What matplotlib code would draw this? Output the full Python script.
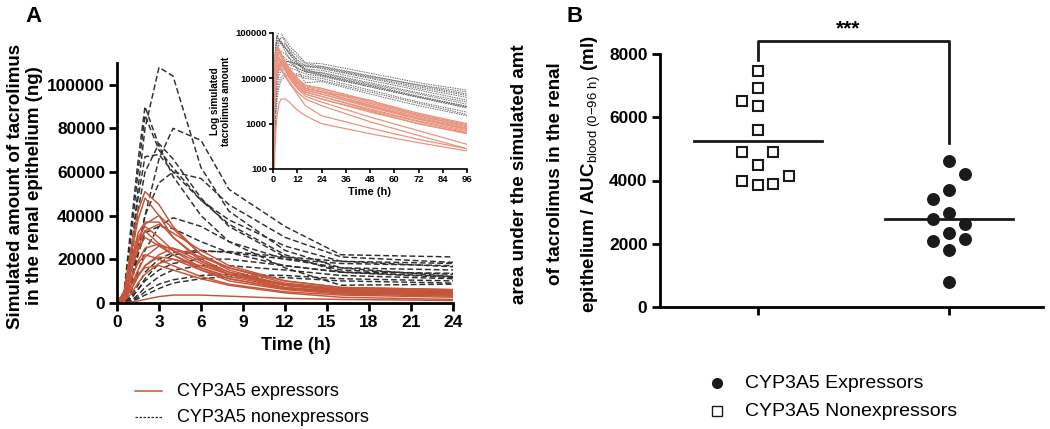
import numpy as np
import matplotlib
matplotlib.use("Agg")
import matplotlib.pyplot as plt
from matplotlib.lines import Line2D

plt.rcParams['font.family'] = ['Liberation Sans', 'DejaVu Sans']
plt.rcParams['mathtext.fontset'] = 'custom'
plt.rcParams['mathtext.rm'] = 'Liberation Sans'
plt.rcParams['mathtext.bf'] = 'Liberation Sans:bold'

# ---- panel A data: simulated amount (ng) per patient
times = [0, 0.5, 1, 1.5, 2, 3, 4, 6, 8, 12, 16, 24]
tail_times = [48, 72, 96]

nonexp_amt = [
    [0, 2000, 22000, 52000, 80000, 108000, 104000, 62000, 42000, 24000, 16000, 12000],
    [0, 5000, 35000, 65000, 90000, 72000, 58000, 40000, 28000, 16000, 8000, 8500],
    [0, 4000, 30000, 60000, 86000, 70000, 62000, 47000, 36000, 22000, 14000, 11500],
    [0, 1000, 8000, 22000, 40000, 66000, 80000, 74500, 52000, 35000, 22000, 21000],
    [0, 2000, 18000, 42000, 60000, 73000, 66000, 48000, 35000, 21000, 15000, 13000],
    [0, 3000, 22000, 48000, 67000, 68000, 60000, 47000, 38000, 26000, 19000, 16500],
    [0, 1000, 10000, 25000, 40000, 55000, 60000, 57000, 45000, 30000, 21000, 18500],
    [0, 500, 5000, 14000, 24000, 35000, 39000, 35000, 28000, 20000, 16000, 15000],
    [0, 1000, 9000, 22000, 32000, 35000, 34000, 28000, 23000, 17000, 14000, 13500],
    [0, 300, 3000, 8000, 14000, 20000, 23000, 24000, 23000, 20000, 18000, 17000],
    [0, 200, 2000, 6000, 11000, 18000, 22000, 23500, 23500, 21000, 19000, 18000],
    [0, 200, 2000, 6000, 10000, 15000, 18000, 20000, 20000, 17000, 14000, 12000],
    [0, 100, 1000, 3500, 7000, 12000, 15000, 17000, 17000, 15000, 12500, 11000],
    [0, 100, 800, 2500, 5000, 8500, 10500, 12500, 13000, 12500, 11000, 10000],
    [0, 100, 600, 1800, 3500, 6500, 9000, 11000, 12000, 11500, 10000, 9000],
]
nonexp_tail = [
    [7000, 4000, 2400], [4500, 2500, 1500], [6500, 3800, 2200], [13000, 8000, 5500],
    [7500, 4500, 2700], [10000, 6000, 3800], [11500, 7000, 4500], [9000, 5500, 3300],
    [8000, 4800, 3000], [10500, 6500, 4200], [11000, 7200, 5000], [7000, 4000, 2400],
    [6500, 3800, 2300], [5500, 3000, 1800], [5000, 2800, 1600],
]

exp_amt = [
    [0, 5000, 25000, 42000, 51000, 45000, 35000, 22000, 15000, 8000, 6000, 5000],
    [0, 4000, 22000, 38000, 48000, 40000, 30000, 19000, 13000, 7000, 5000, 4000],
    [0, 2000, 15000, 28000, 36000, 40000, 34000, 22000, 16000, 9000, 6500, 5500],
    [0, 3000, 18000, 32000, 37000, 37000, 30000, 20000, 14000, 8000, 6000, 5000],
    [0, 2000, 14000, 25000, 33000, 36000, 32000, 24000, 17000, 10000, 7000, 6000],
    [0, 4000, 20000, 30000, 35000, 30000, 24000, 16000, 11000, 6500, 4500, 3500],
    [0, 3500, 18000, 28000, 33000, 27000, 22000, 15000, 10000, 6000, 4000, 3000],
    [0, 3000, 15000, 24000, 30000, 26000, 22000, 16000, 12000, 7000, 5000, 4000],
    [0, 2000, 10000, 19000, 25000, 27000, 24000, 18000, 13000, 8000, 5500, 4500],
    [0, 1500, 8000, 15000, 21000, 26000, 25000, 19000, 14000, 8500, 6000, 5000],
    [0, 1000, 6000, 12000, 17000, 22000, 25000, 21000, 16000, 10000, 7000, 6000],
    [0, 2500, 12000, 18000, 22000, 20000, 17000, 12000, 8500, 5000, 3500, 2500],
    [0, 1000, 6000, 12000, 17000, 21000, 20000, 15000, 11000, 6500, 4500, 3500],
    [0, 800, 4000, 9000, 13000, 18000, 20000, 17000, 13000, 8000, 5500, 4500],
    [0, 1500, 8000, 13000, 16000, 17000, 15000, 11000, 8000, 4500, 2500, 1500],
    [0, 50, 300, 800, 1500, 2800, 3500, 3500, 3000, 2000, 1500, 1000],
]
exp_tail = [
    [2500, 1300, 750], [2000, 1100, 650], [2800, 1500, 900], [2600, 1400, 800],
    [3200, 1700, 1000], [1800, 1000, 600], [1400, 700, 350], [2100, 1150, 700],
    [2300, 1250, 750], [3300, 1500, 850], [3000, 1600, 950], [1100, 550, 280],
    [1900, 1000, 620], [2400, 1300, 780], [800, 450, 280], [600, 380, 250],
]

# ---- panel B data: AUC ratio (ml)
nonexp_auc = [7460, 6910, 6520, 6370, 5590, 4895, 4905, 4494, 4000, 3870, 3900, 4155]
nonexp_col = [0, 0, -1, 0, 0, -1, 1, 0, -1, 0, 1, 2]
exp_auc = [4610, 4190, 3715, 3400, 2975, 2775, 2615, 2355, 2165, 2090, 1795, 790]
exp_col = [0, 1, 0, -1, 0, -1, 1, 0, 1, -1, 0, 0]

RED = '#c4553a'
RED_LIGHT = '#e99580'
DARK = '#2e2e2e'
W, H = 1050, 429


def fx(px):
    return px / W


def fy(py):
    return 1 - py / H


fig = plt.figure(figsize=(10.5, 4.29), dpi=100)

# ---------------- panel A
ax = fig.add_axes([fx(117), fy(302.7), (453 - 117) / W, (302.7 - 63) / H])
for v in nonexp_amt:
    ax.plot(times, v, color=DARK, lw=1.05, ls=(0, (4, 2)))
for v in exp_amt:
    ax.plot(times, v, color=RED, lw=1.05)
ax.set_xlim(0, 24)
ax.set_ylim(0, 110000)
ax.set_xticks(range(0, 25, 3))
ax.set_yticks(range(0, 100001, 20000))
for s in ['top', 'right']:
    ax.spines[s].set_visible(False)
for s in ['left', 'bottom']:
    ax.spines[s].set_linewidth(2)
ax.tick_params(width=2, length=6, labelsize=12.5, pad=2.5)
for lab in ax.get_xticklabels() + ax.get_yticklabels():
    lab.set_fontweight('bold')
fig.text(fx(296), fy(346), 'Time (h)', ha='center', va='center', fontsize=13, fontweight='bold')
fig.text(fx(25), fy(186), 'Simulated amount of tacrolimus\nin the renal epithelium (ng)',
         rotation=90, ha='center', va='center', fontsize=13.5, fontweight='bold',
         multialignment='center', linespacing=1.1)
fig.text(fx(25), fy(16), 'A', ha='left', va='center', fontsize=16, fontweight='bold')

# inset (log scale, 0-96 h)
ins = fig.add_axes([fx(273), fy(169), (467 - 273) / W, (169 - 33) / H])
for v, tl in zip(nonexp_amt, nonexp_tail):
    ins.plot(times + tail_times, v + tl, color='#6a6a6a', lw=0.7, ls=(0, (1.5, 1)))
for v, tl in zip(exp_amt, exp_tail):
    ins.plot(times + tail_times, v + tl, color=RED_LIGHT, lw=0.9)
ins.set_yscale('log')
ins.set_xlim(0, 96)
ins.set_ylim(100, 100000)
ins.set_xticks(range(0, 97, 12))
ins.set_yticks([100, 1000, 10000, 100000])
ins.set_yticklabels(['100', '1000', '10000', '100000'])
ins.minorticks_off()
for s in ['top', 'right']:
    ins.spines[s].set_visible(False)
for s in ['left', 'bottom']:
    ins.spines[s].set_linewidth(1.2)
ins.tick_params(width=1.2, length=3, labelsize=6.8, pad=1.5)
for lab in ins.get_xticklabels() + ins.get_yticklabels():
    lab.set_fontweight('bold')
ins.set_xlabel('Time (h)', fontsize=8, fontweight='bold', labelpad=2)
ins.set_ylabel('Log simulated\ntacrolimus amount', fontsize=7.2, fontweight='bold', labelpad=3,
               linespacing=1.1)

# legend A
fig.add_artist(Line2D([fx(135), fx(162)], [fy(391), fy(391)], color=RED, lw=1.1))
fig.add_artist(Line2D([fx(135), fx(162)], [fy(417), fy(417)], color=DARK, lw=0.9, ls=(0, (2, 1.2))))
fig.text(fx(177), fy(391), 'CYP3A5 expressors', va='center', fontsize=13)
fig.text(fx(177), fy(417), 'CYP3A5 nonexpressors', va='center', fontsize=13)

# ---------------- panel B
bx = fig.add_axes([fx(660), fy(307), (1043 - 660) / W, (307 - 54) / H])
step = 0.082
bx.plot(np.array(nonexp_col) * step, nonexp_auc, ls='none', marker='s', ms=7,
        mfc='white', mec='#1a1a1a', mew=1.5)
bx.plot(1 + np.array(exp_col) * step, exp_auc, ls='none', marker='o', ms=8.3,
        mfc='#1a1a1a', mec='#1a1a1a')
bx.plot([-0.335, 0.335], [np.mean(nonexp_auc)] * 2, color='#1a1a1a', lw=2)
bx.plot([1 - 0.335, 1 + 0.335], [np.mean(exp_auc)] * 2, color='#1a1a1a', lw=2)
bx.plot([0, 0, 1, 1], [7810, 8420, 8420, 5190], color='#1a1a1a', lw=2, clip_on=False)
bx.text(0.47, 8500, '***', ha='center', va='bottom', fontsize=15, fontweight='bold')
bx.set_xlim(-0.51, 1.49)
bx.set_ylim(0, 8000)
bx.set_xticks([0, 1])
bx.set_xticklabels([])
bx.set_yticks(range(0, 8001, 2000))
for s in ['top', 'right']:
    bx.spines[s].set_visible(False)
for s in ['left', 'bottom']:
    bx.spines[s].set_linewidth(2)
bx.tick_params(width=2, length=6, labelsize=12.5, pad=3)
for lab in bx.get_yticklabels():
    lab.set_fontweight('bold')
fig.text(fx(519), fy(174), 'area under the simulated amt', rotation=90, ha='center', va='center',
         fontsize=13.5, fontweight='bold')
fig.text(fx(555), fy(174), 'of tacrolimus in the renal', rotation=90, ha='center', va='center',
         fontsize=13.5, fontweight='bold')
fig.text(fx(591), fy(174), r'epithelium / AUC$_{\mathrm{blood\ (0{-}96\ h)}}$ (ml)', rotation=90,
         ha='center', va='center', fontsize=13.5, fontweight='bold')
fig.text(fx(567), fy(16), 'B', ha='left', va='center', fontsize=16, fontweight='bold')

# legend B
fig.add_artist(Line2D([fx(717)], [fy(383)], ls='none', marker='o', ms=7, mfc='#1a1a1a', mec='#1a1a1a'))
fig.add_artist(Line2D([fx(717)], [fy(411)], ls='none', marker='s', ms=6.5, mfc='white',
                      mec='#1a1a1a', mew=1))
fig.text(fx(745), fy(383), 'CYP3A5 Expressors', va='center', fontsize=14)
fig.text(fx(745), fy(411), 'CYP3A5 Nonexpressors', va='center', fontsize=14)

fig.savefig('out.png', dpi=100)
